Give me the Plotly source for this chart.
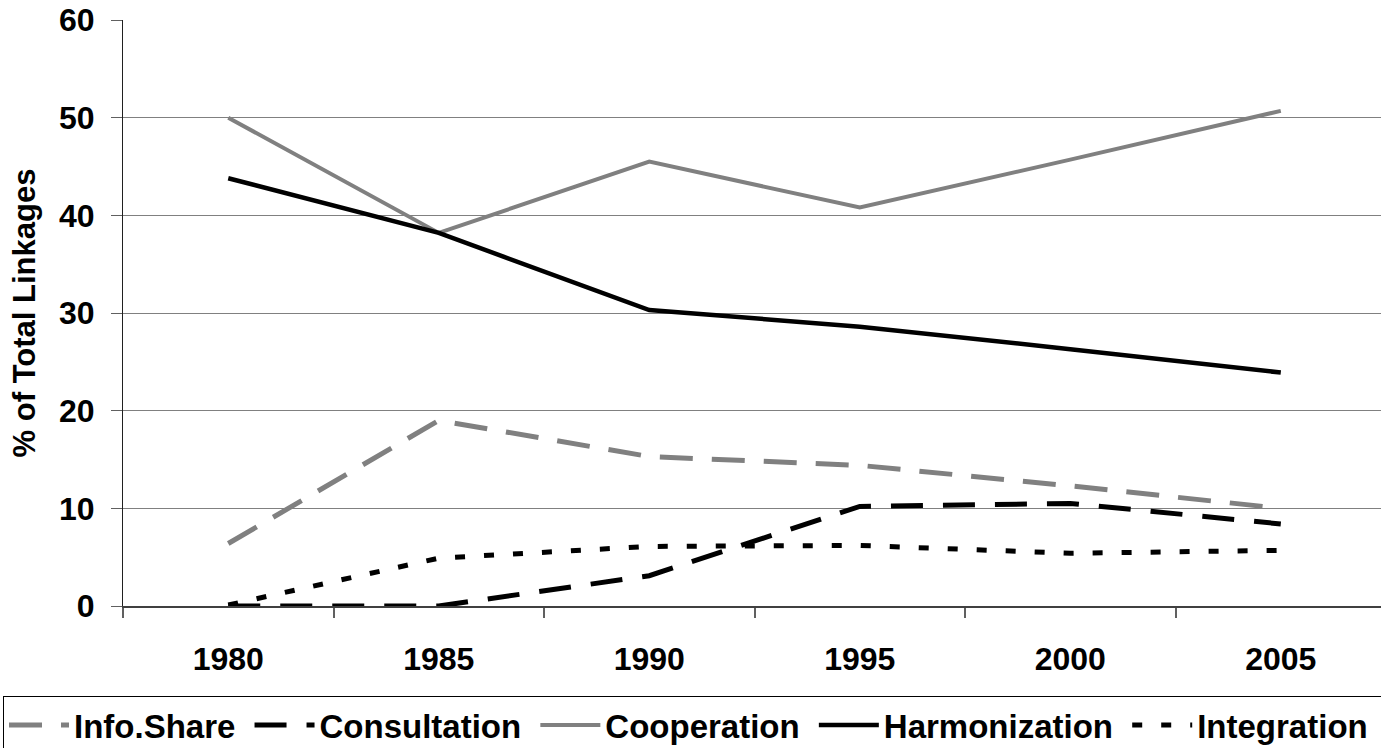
import plotly.graph_objects as go

years = ["1980", "1985", "1990", "1995", "2000", "2005"]
info_share = [6.4, 19.0, 15.3, 14.4, 12.3, 10.0]
consultation = [0.0, 0.0, 3.1, 10.2, 10.5, 8.4]
cooperation = [50.0, 38.2, 45.5, 40.8, 45.7, 50.7]
harmonization = [43.8, 38.2, 30.3, 28.6, 26.3, 23.9]
integration = [0.1, 4.9, 6.1, 6.2, 5.4, 5.7]
y_ticks = [0, 10, 20, 30, 40, 50, 60]

series = [
    ("Info.Share", info_share, "#808080", 5, "33px,19px"),
    ("Consultation", consultation, "#000000", 5, "32px,20px"),
    ("Cooperation", cooperation, "#808080", 4, "solid"),
    ("Harmonization", harmonization, "#000000", 4.5, "solid"),
    ("Integration", integration, "#000000", 5, "10px,19px"),
]

fig = go.Figure()
for name, vals, color, width, dash in series:
    fig.add_trace(go.Scatter(
        x=years, y=vals, name=name + "\u00a0", mode="lines",
        line=dict(color=color, width=width, dash=dash),
    ))

font_family = "Liberation Sans, Arial, sans-serif"

fig.update_layout(
    width=1381, height=748,
    margin=dict(l=123, r=0, t=20, b=142, autoexpand=False),
    paper_bgcolor="white", plot_bgcolor="white",
    font=dict(family=font_family, size=32, color="black"),
    showlegend=True,
    legend=dict(
        orientation="h", xref="paper", yref="paper",
        x=(3 - 123) / 1258, y=-(696 - 606) / 586, xanchor="left", yanchor="top",
        bordercolor="black", borderwidth=1, itemwidth=60,
        font=dict(family=font_family, size=33, color="black", weight="bold"),
    ),
    xaxis=dict(
        type="category", categoryorder="array", categoryarray=years,
        range=[-0.5, 5.476], tickson="boundaries", automargin=False,
        ticks="outside", ticklen=10, tickcolor="#606060", tickwidth=1.5,
        showline=True, linecolor="#404040", linewidth=1.5,
        showgrid=False, zeroline=False,
        tickfont=dict(family=font_family, size=32, weight="bold"),
        ticklabelstandoff=24,
    ),
    yaxis=dict(
        range=[0, 60], tickvals=y_ticks, automargin=False,
        ticks="outside", ticklen=11, tickcolor="#606060",
        showline=True, linecolor="#202020", linewidth=1.2,
        showgrid=True, gridcolor="#808080", gridwidth=1,
        zeroline=False,
        tickfont=dict(family=font_family, size=32, weight="bold"),
        ticklabelstandoff=10,
        title=dict(text="% of Total Linkages", standoff=14,
                   font=dict(family=font_family, size=31, weight="bold")),
    ),
)

fig.write_html(
    "out.html",
    config={"displayModeBar": False},
    post_script="document.body.style.margin='0px';document.body.style.overflow='hidden';",
)
